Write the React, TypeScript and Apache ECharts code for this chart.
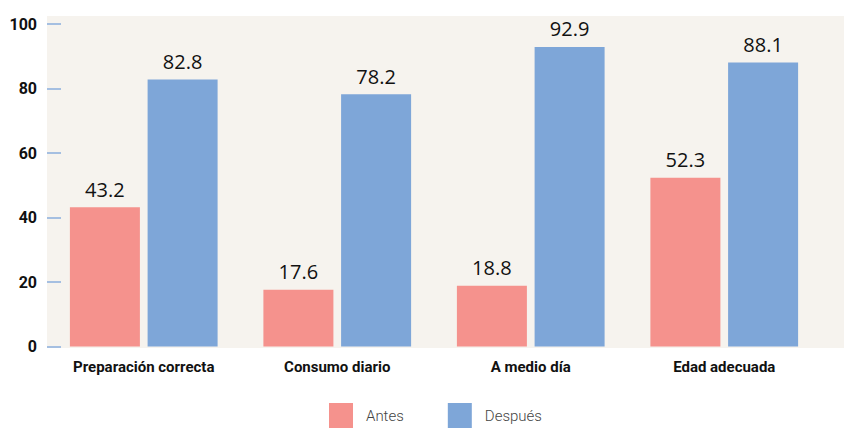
import React, { useEffect, useRef } from "react";
import * as echarts from "echarts";

const categories = ["Preparación correcta", "Consumo diario", "A medio día", "Edad adecuada"];
const antes = [43.2, 17.6, 18.8, 52.3];
const despues = [82.8, 78.2, 92.9, 88.1];
const seriesNames = ["Antes", "Después"];

export default function App() {
  const ref = useRef<HTMLDivElement>(null);
  useEffect(() => {
    const chart = echarts.init(ref.current!, null, { renderer: "svg" });
    const condensed = 'Roboto, "Liberation Sans Narrow", sans-serif';
    chart.setOption({
      animation: false,
      backgroundColor: "#ffffff",
      graphic: [
        {
          type: "rect",
          z: -10,
          silent: true,
          shape: { x: 47, y: 16, width: 797, height: 332 },
          style: { fill: "#f6f3ee" },
        },
      ],
      grid: { left: 47, right: 23, top: 24, bottom: 82.5, containLabel: false },
      legend: {
        left: 329,
        top: 403,
        padding: 0,
        itemWidth: 24,
        itemHeight: 25,
        itemGap: 44,
        icon: "rect",
        textStyle: { fontFamily: condensed, fontSize: 15, fontWeight: 300, color: "#444", padding: [0, 0, 0, 8] },
        data: seriesNames,
      },
      xAxis: {
        type: "category",
        data: categories,
        axisLine: { show: false },
        axisTick: { show: false },
        axisLabel: {
          interval: 0,
          margin: 13,
          fontFamily: condensed,
          fontWeight: "bold",
          fontSize: 15,
          color: "#111",
        },
      },
      yAxis: {
        type: "value",
        min: 0,
        max: 100,
        interval: 20,
        splitLine: { show: false },
        axisLine: { show: false },
        axisTick: { show: true, inside: true, length: 14, lineStyle: { color: "#8aaedc", width: 1.5 } },
        axisLabel: {
          margin: 10,
          fontFamily: condensed,
          fontWeight: "bold",
          fontSize: 16,
          color: "#111",
        },
      },
      series: [
        {
          name: seriesNames[0],
          type: "bar",
          data: antes,
          barWidth: 70,
          barGap: "11%",
          itemStyle: { color: "#f5928d" },
          label: {
            show: true,
            position: "top",
            distance: 8,
            fontFamily: '"Open Sans", "Noto Sans", sans-serif',
            fontSize: 20,
            color: "#111",
          },
        },
        {
          name: seriesNames[1],
          type: "bar",
          data: despues,
          barWidth: 70,
          barGap: "11%",
          itemStyle: { color: "#7ea6d8" },
          label: {
            show: true,
            position: "top",
            distance: 8,
            fontFamily: '"Open Sans", "Noto Sans", sans-serif',
            fontSize: 20,
            color: "#111",
          },
        },
      ],
    });
    return () => chart.dispose();
  }, []);
  return <div ref={ref} style={{ position: "fixed", left: 0, top: 0, width: 844, height: 429 }} />;
}
